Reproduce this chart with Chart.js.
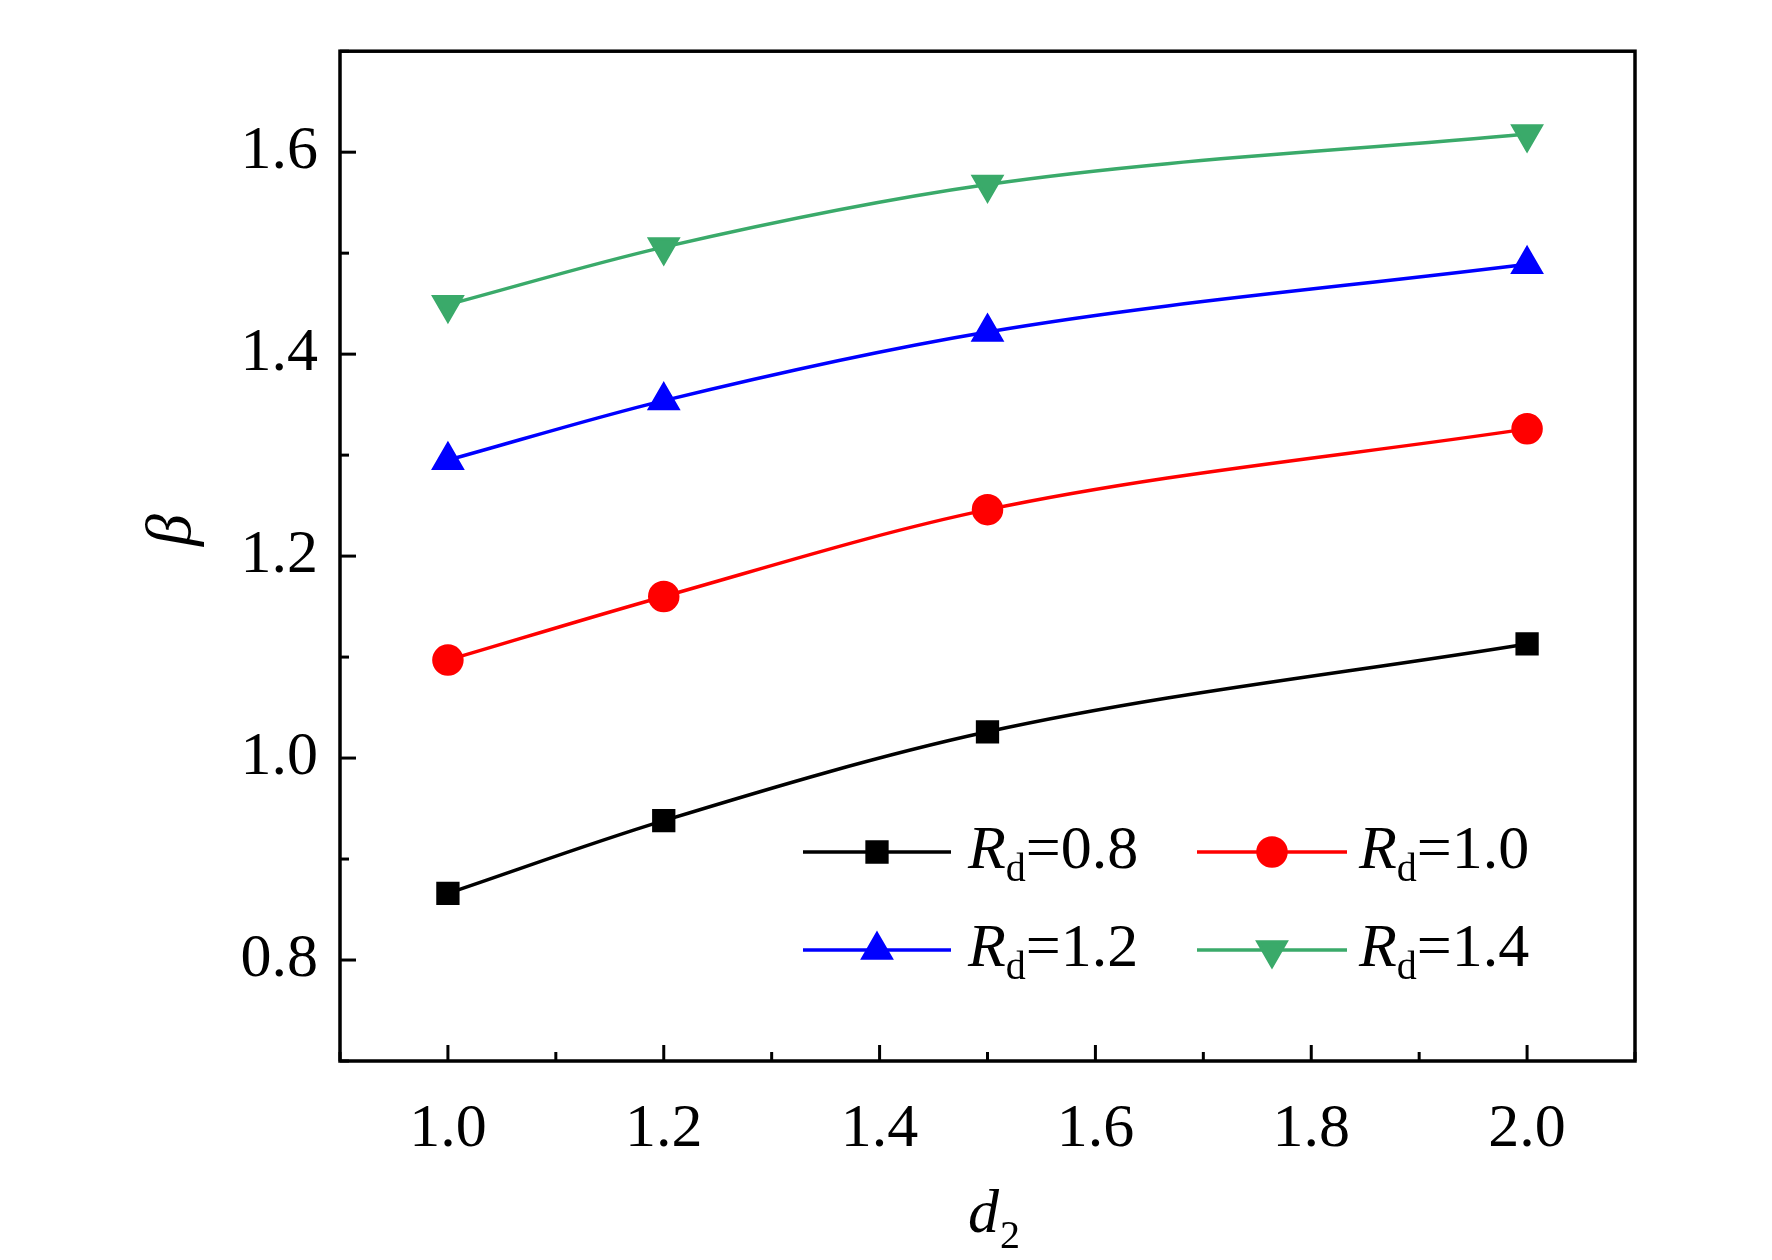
<!DOCTYPE html>
<html><head><meta charset="utf-8">
<script src="https://cdn.jsdelivr.net/npm/chart.js@4"></script>
<style>body{margin:0;background:#fff}#wrap{width:1772px;height:1260px}</style>
</head><body><div id="wrap"><canvas id="c"></canvas></div>
<script>
const d2 = [1.0, 1.2, 1.5, 2.0];
const rdLabels = ['0.8', '1.0', '1.2', '1.4'];
const beta08 = [0.866, 0.938, 1.026, 1.113];
const beta10 = [1.097, 1.160, 1.246, 1.326];
const beta12 = [1.295, 1.354, 1.422, 1.489];
const beta14 = [1.449, 1.506, 1.568, 1.618];
const colores = ['#000000', '#ff0000', '#0000ff', '#3aaa6a'];
const estilos = ['rect', 'circle', 'triangle', 'triangle'];
const rotaciones = [0, 0, 0, 180];
const radios = [14, 14, 16, 16];
const series = [beta08, beta10, beta12, beta14];

const FUENTE = '"Liberation Serif", "Times New Roman", serif';

const datasets = series.map((vals, i) => ({
  label: 'Rd=' + rdLabels[i],
  data: vals.map((v, k) => ({ x: d2[k], y: v })),
  borderColor: colores[i], backgroundColor: colores[i],
  borderWidth: 3.5, pointStyle: estilos[i], rotation: rotaciones[i],
  pointRadius: radios[i], cubicInterpolationMode: 'monotone'
}));

// ejes, ticks hacia dentro, titulos y leyenda
const extras = {
  id: 'extras',
  afterDraw(chart) {
    const { ctx, chartArea: a, scales: { x, y } } = chart;
    ctx.save();
    ctx.strokeStyle = '#000'; ctx.lineWidth = 3.5;
    ctx.strokeRect(a.left, a.top, a.right - a.left, a.bottom - a.top);
    ctx.lineWidth = 3;
    for (let i = 9; i <= 21; i++) {
      const px = x.getPixelForValue(i / 10);
      const len = i % 2 === 0 ? 16 : 9;
      ctx.beginPath(); ctx.moveTo(px, a.bottom); ctx.lineTo(px, a.bottom - len); ctx.stroke();
    }
    for (let i = 7; i <= 17; i++) {
      const py = y.getPixelForValue(i / 10);
      const len = i % 2 === 0 ? 16 : 9;
      ctx.beginPath(); ctx.moveTo(a.left, py); ctx.lineTo(a.left + len, py); ctx.stroke();
    }
    ctx.fillStyle = '#000';
    // titulo x: d2
    ctx.font = 'italic 62px ' + FUENTE;
    ctx.textBaseline = 'alphabetic';
    ctx.fillText('d', 968, 1232);
    ctx.font = '40px ' + FUENTE;
    ctx.fillText('2', 1000, 1248);
    // titulo y: beta
    ctx.save();
    ctx.translate(190, 530); ctx.rotate(-Math.PI / 2);
    ctx.font = 'italic 64px ' + FUENTE; ctx.textAlign = 'center';
    ctx.fillText('β', 0, 0);
    ctx.restore();
    // leyenda
    const filas = [852, 950], cols = [[803, 951, 968], [1197, 1347, 1359]];
    chart.data.datasets.forEach((ds, i) => {
      const yy = filas[Math.floor(i / 2)], c = cols[i % 2];
      ctx.strokeStyle = ds.borderColor; ctx.fillStyle = ds.backgroundColor; ctx.lineWidth = 3.5;
      ctx.beginPath(); ctx.moveTo(c[0], yy); ctx.lineTo(c[1], yy); ctx.stroke();
      Chart.helpers.drawPoint(ctx, { pointStyle: ds.pointStyle, rotation: ds.rotation, radius: ds.pointRadius, borderWidth: 1 }, (c[0] + c[1]) / 2, yy);
      ctx.fillStyle = '#000';
      ctx.textBaseline = 'middle';
      ctx.font = 'italic 62px ' + FUENTE;
      ctx.fillText('R', c[2], yy);
      let w = ctx.measureText('R').width;
      ctx.font = '40px ' + FUENTE;
      ctx.fillText('d', c[2] + w, yy + 18);
      w += ctx.measureText('d').width;
      ctx.font = '62px ' + FUENTE;
      ctx.fillText('=' + rdLabels[i], c[2] + w, yy);
    });
    ctx.restore();
  }
};

new Chart(document.getElementById('c'), {
  type: 'line',
  data: { datasets },
  plugins: [extras],
  options: {
    responsive: true, maintainAspectRatio: false, animation: false,
    layout: { padding: { top: -18, right: 137, left: 0, bottom: 0 } },
    plugins: { legend: { display: false }, tooltip: { enabled: false } },
    scales: {
      x: {
        type: 'linear', min: 0.9, max: 2.1,
        grid: { display: false }, border: { display: false },
        afterFit: s => { s.height = 199; },
        afterBuildTicks: s => { s.ticks = [1.0, 1.2, 1.4, 1.6, 1.8, 2.0].map(v => ({ value: v })); },
        ticks: { padding: 24, color: '#000', font: { family: FUENTE, size: 62 }, callback: v => v.toFixed(1) }
      },
      y: {
        min: 0.7, max: 1.7,
        grid: { display: false }, border: { display: false },
        afterFit: s => { s.width = 340; },
        afterBuildTicks: s => { s.ticks = [0.8, 1.0, 1.2, 1.4, 1.6].map(v => ({ value: v })); },
        ticks: { padding: 14, color: '#000', font: { family: FUENTE, size: 62 }, callback: v => v.toFixed(1) }
      }
    }
  }
});
</script></body></html>
